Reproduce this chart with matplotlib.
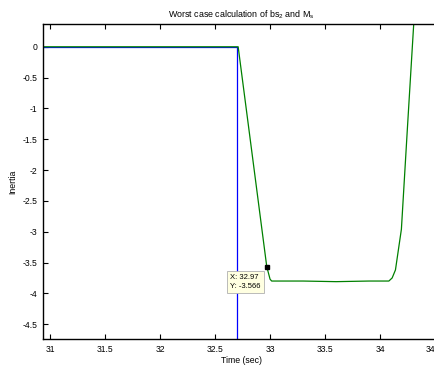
import matplotlib
matplotlib.use("Agg")
import matplotlib.pyplot as plt

plt.rcParams['font.family'] = ['Liberation Sans', 'DejaVu Sans']
plt.rcParams['mathtext.fontset'] = 'custom'
plt.rcParams['mathtext.rm'] = 'Liberation Sans'
plt.rcParams['mathtext.it'] = 'Liberation Sans'

# inertia response (green)
t_inertia = [30.90, 32.70, 32.71, 32.81, 32.97, 33.00, 33.015, 33.30, 33.60,
             33.90, 34.08, 34.11, 34.14, 34.194, 34.248, 34.303, 34.40]
inertia = [0.0, 0.0, 0.0, -1.37, -3.566, -3.77, -3.80, -3.80, -3.81,
           -3.80, -3.80, -3.75, -3.62, -2.96, -1.34, 0.28, 3.0]

# step signal (blue)
t_step = [30.90, 32.70, 32.70]
step = [0.0, 0.0, -10.0]

# data tip
tip_x = 32.97
tip_y = -3.566

xticks = [31, 31.5, 32, 32.5, 33, 33.5, 34, 34.5]
xticklabels = ['31', '31.5', '32', '32.5', '33', '33.5', '34', '34']
yticks = [0, -0.5, -1, -1.5, -2, -2.5, -3, -3.5, -4, -4.5]

fig = plt.figure(figsize=(4.35, 3.66), dpi=100)
ax = fig.add_axes([0.0989, 0.0738, 0.9126, 0.8607])

ax.plot(t_step, step, color='#0000ff', lw=0.9)
ax.plot(t_inertia, inertia, color='#008000', lw=0.9)
ax.plot([tip_x], [tip_y], marker='s', color='black', ms=3.5)

ax.text(tip_x - 0.33, tip_y - 0.12, 'X: 32.97\nY: -3.566', fontsize=5.5,
        va='top', ha='left', linespacing=1.4,
        bbox=dict(boxstyle='square,pad=0.45', fc='#ffffe1', ec='#b0b0b0', lw=0.6))

ax.set_xlim(30.936, 34.545)
ax.set_ylim(-4.74, 0.37)
ax.set_xticks(xticks)
ax.set_xticklabels(xticklabels)
ax.set_yticks(yticks)
ax.set_yticklabels(['0', '-0.5', '-1', '-1.5', '-2', '-2.5', '-3', '-3.5', '-4', '-4.5'])

ax.tick_params(direction='in', length=3.5, width=0.8, labelsize=6.2,
               top=True, right=True, pad=4)
# last label is clipped by the figure edge in the original, keep it inside
ax.get_xticklabels()[-1].set_horizontalalignment('right')
for s in ax.spines.values():
    s.set_linewidth(1.0)

ax.set_title('Worst case calculation of bs$_2$ and M$_s$', fontsize=6.4, pad=5)
ax.set_xlabel('Time (sec)', fontsize=6.3, labelpad=2)
ax.set_ylabel('Inertia', fontsize=6.3, labelpad=4)

fig.savefig('out.png', dpi=100)
